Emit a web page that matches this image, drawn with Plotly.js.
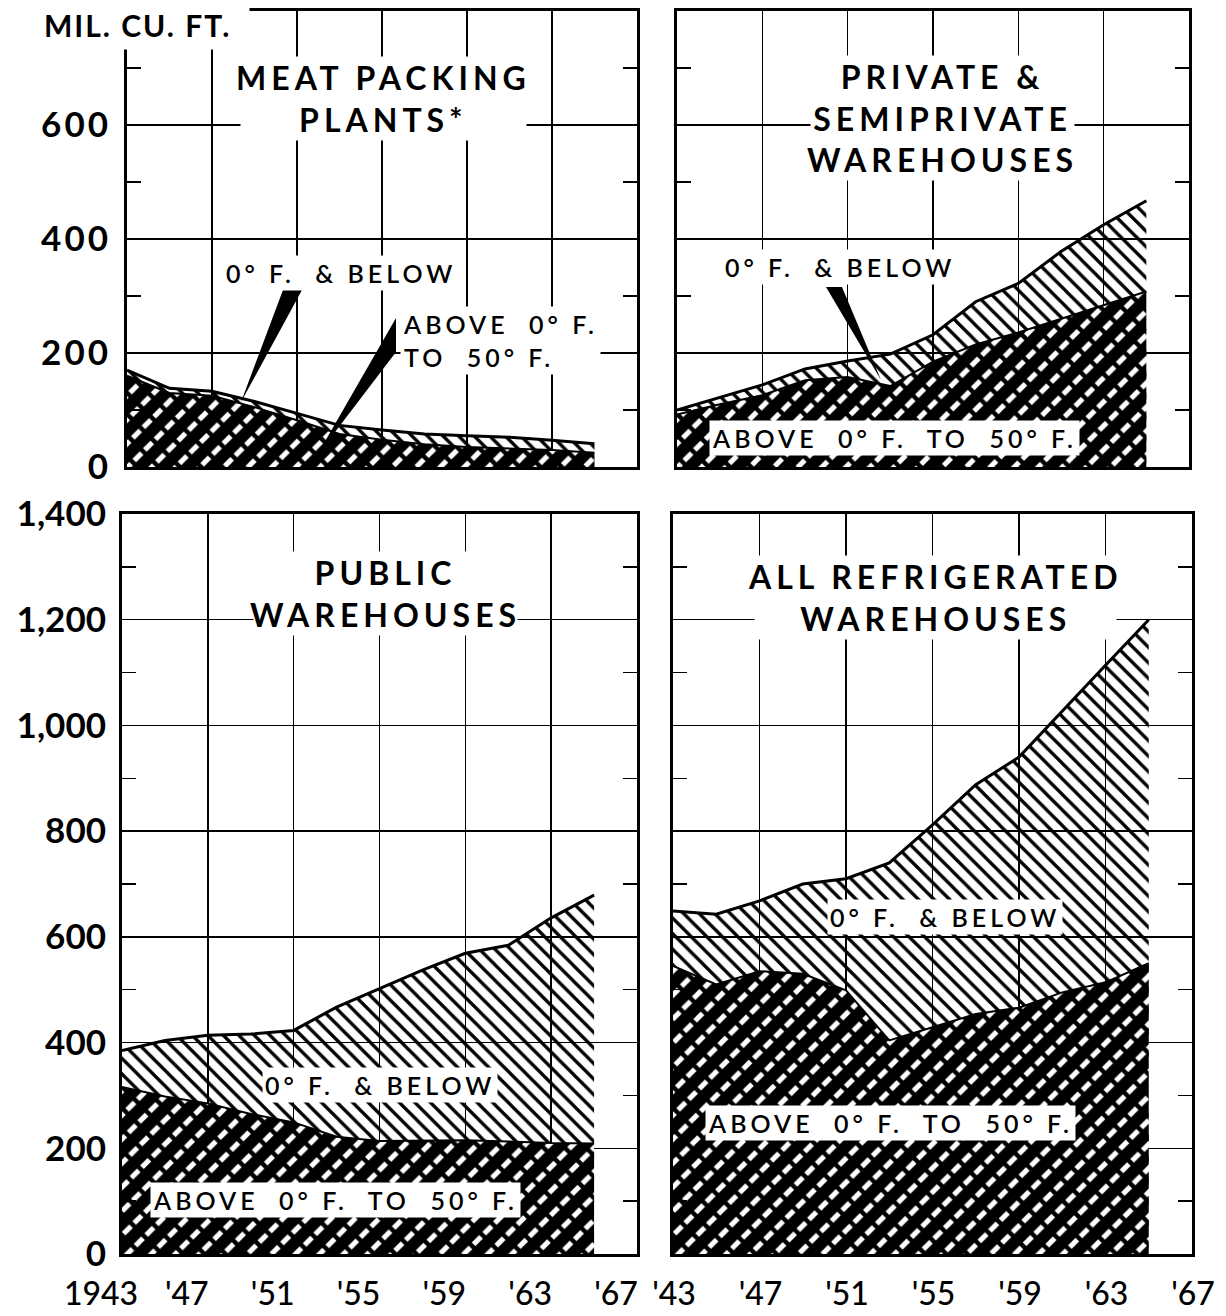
<!DOCTYPE html>
<html><head><meta charset="utf-8">
<script src="https://cdn.plot.ly/plotly-3.0.1.min.js"></script>
<style>
html,body{margin:0;padding:0;background:#fff;}
#chart{width:1226px;height:1316px;}
.annotation-text{letter-spacing:4px;}
.annotation[data-index="0"] .annotation-text{letter-spacing:2px;}
.annotation[data-index="1"] .annotation-text,
.annotation[data-index="2"] .annotation-text,
.annotation[data-index="3"] .annotation-text,
.annotation[data-index="4"] .annotation-text{letter-spacing:5px;}
.xtick text{letter-spacing:6px;}
.ytick text{letter-spacing:3px;}
</style></head><body><div id="chart"></div>
<script>
// ---- data (million cubic feet) ----
const years = [1943,1945,1947,1949,1951,1953,1955,1957,1959,1961,1963,1965];

const meatAbove = [160,130,125,105,82,58,48,40,35,33,30,25];
const meatBelow = [10,8,8,10,12,15,17,18,20,19,17,16];

const privAbove = [92,110,126,152,158,142,185,215,236,260,284,308];
const privBelow = [8,12,18,20,28,56,47,75,86,118,141,159];

const pubAbove = [316,298,285,265,249,222,214,214,215,213,210,209];
const pubBelow = [69,106,129,151,174,245,288,323,354,371,426,470];

const allAbove = [545,510,535,530,499,404,429,454,466,495,514,550];
const allBelow = [104,133,133,170,211,336,383,434,474,533,600,650];

const gridYears = [1943,1947,1951,1955,1959,1963,1967];
const xTextLeft = ['1943',"'47","'51","'55","'59","'63","'67"];
const xTextRight = ["'43","'47","'51","'55","'59","'63","'67"];
const yTopVals = [0,200,400,600];
const yTopText = ['0','200','400','600'];
const yBotVals = [0,200,400,600,800,1000,1200,1400];
const yBotText = ['0','200','400','600','800','1,000','1,200','1,400'];

const panelTitles = ['MEAT PACKING<br>PLANTS*','PRIVATE &<br>SEMIPRIVATE<br>WAREHOUSES','PUBLIC<br>WAREHOUSES','ALL REFRIGERATED<br>WAREHOUSES'];
const lblBelowTL = '0° F.  & BELOW';
const lblAboveTL = 'ABOVE  0° F.<br>TO  50° F.';
const lblBelow = '0° F.  & BELOW';
const lblAbove = 'ABOVE  0° F.  TO  50° F.';

// ---- styling ----
const W = 1226, H = 1316;
const px = v => v / W;
const py = v => 1 - v / H;
const FONT = 'Lato, "Open Sans", sans-serif';

const darkPat = {shape:'/', bgcolor:'#000', fgcolor:'#fff', size:17, solidity:0.3};
const cutPat  = {shape:'\\', bgcolor:'rgba(0,0,0,0)', fgcolor:'#000', size:15, solidity:0.3};
const lightPat= {shape:'\\', bgcolor:'rgba(255,255,255,0)', fgcolor:'#000', size:11, solidity:0.3};

const sum = (a,b) => a.map((v,i)=>v+b[i]);

function panel(above, below, xa, ya){
  const total = sum(above, below);
  return [
    {x:years, y:above, xaxis:xa, yaxis:ya, type:'scatter', mode:'lines', fill:'tozeroy',
     line:{color:'#000', width:2}, fillpattern:darkPat, hoverinfo:'skip', showlegend:false},
    {x:years, y:above, xaxis:xa, yaxis:ya, type:'scatter', mode:'lines', fill:'tozeroy',
     line:{color:'rgba(0,0,0,0)', width:0}, fillcolor:'rgba(0,0,0,0)', fillpattern:cutPat, hoverinfo:'skip', showlegend:false},
    {x:years, y:total, xaxis:xa, yaxis:ya, type:'scatter', mode:'lines', fill:'tonexty',
     line:{color:'#000', width:3}, fillpattern:lightPat, hoverinfo:'skip', showlegend:false}
  ];
}

const data = [].concat(
  panel(meatAbove, meatBelow, 'x', 'y'),
  panel(privAbove, privBelow, 'x2', 'y2'),
  panel(pubAbove, pubBelow, 'x3', 'y3'),
  panel(allAbove, allBelow, 'x4', 'y4')
);

function xax(dom, anchor, labels, shift){
  const a = {domain:dom, anchor:anchor, range:[1943,1967], tickmode:'array', tickvals:gridYears,
    showgrid:true, gridcolor:'#000', gridwidth:1.5, showline:true, linecolor:'#000', linewidth:3,
    mirror:true, ticks:'', zeroline:false, fixedrange:true, showticklabels:!!labels};
  if (labels){ a.ticktext = labels; a.tickfont = {family:FONT, size:32, color:'#000', weight:500}; a.ticklabelstandoff = 10; a.ticklabelshift = shift; }
  return a;
}
function yax(dom, anchor, range, vals, text, minorVals, labels){
  const a = {domain:dom, anchor:anchor, range:range, tickmode:'array', tickvals:vals,
    showgrid:true, gridcolor:'#000', gridwidth:1.5, showline:true, linecolor:'#000', linewidth:3,
    mirror:'ticks', ticks:'', zeroline:false, fixedrange:true, showticklabels:labels,
    minor:{tickmode:'array', tickvals:minorVals, ticks:'inside', ticklen:14, tickwidth:1.5, tickcolor:'#000', showgrid:false}};
  if (labels){ a.ticktext = text; a.tickfont = {family:FONT, size:35, color:'#000', weight:'bold'}; a.ticklabelstandoff = 6; }
  return a;
}

function note(text, cx, cy, size, extra){
  return Object.assign({text:text, xref:'paper', yref:'paper', x:px(cx), y:py(cy), showarrow:false,
    xanchor:'center', yanchor:'middle', align:'center',
    font:{family:FONT, size:size, color:'#000', weight:600}, bgcolor:'#fff', borderpad:2}, extra || {});
}

const topY = [py(467), py(11)];
const botY = [py(1254), py(514)];
const layout = {
  width:W, height:H, margin:{l:0,r:0,t:0,b:0,pad:0},
  paper_bgcolor:'#fff', plot_bgcolor:'#fff', showlegend:false,
  font:{family:FONT, color:'#000'},
  xaxis: xax([px(127), px(637)], 'y', null, 0),
  yaxis: yax(topY, 'x', [0,800], yTopVals, yTopText, [100,300,500,700], true),
  xaxis2: xax([px(677), px(1189)], 'y2', null, 0),
  yaxis2: yax(topY, 'x2', [0,800], yTopVals, yTopText, [100,300,500,700], false),
  xaxis3: xax([px(122), px(637)], 'y3', xTextLeft, -21),
  yaxis3: yax(botY, 'x3', [0,1400], yBotVals, yBotText, [100,300,500,700,900,1100,1300], true),
  xaxis4: xax([px(673), px(1192)], 'y4', xTextRight, 1),
  yaxis4: yax(botY, 'x4', [0,1400], yBotVals, yBotText, [100,300,500,700,900,1100,1300], false),
  shapes: [
    {type:'path', xref:'paper', yref:'paper', fillcolor:'#000', line:{width:0},
     path:`M${px(283)},${py(290)} L${px(302)},${py(290)} L${px(241)},${py(402)} Z`},
    {type:'path', xref:'paper', yref:'paper', fillcolor:'#000', line:{width:0},
     path:`M${px(396)},${py(318)} L${px(396)},${py(352)} L${px(316)},${py(457)} Z`},
    {type:'path', xref:'paper', yref:'paper', fillcolor:'#000', line:{width:0},
     path:`M${px(826)},${py(287)} L${px(842)},${py(287)} L${px(881)},${py(380)} Z`}
  ],
  annotations: [
    note('<b>MIL. CU. FT.</b>', 137, 25, 30, {borderpad:6}),
    note('<b>'+panelTitles[0]+'</b>', 383, 99, 32, {borderpad:1}),
    note('<b>'+panelTitles[1]+'</b>', 943, 118, 32, {borderpad:1}),
    note('<b>'+panelTitles[2]+'</b>', 385, 593, 32, {borderpad:1}),
    note('<b>'+panelTitles[3]+'</b>', 935, 597, 32, {borderpad:1}),
    note(lblBelowTL, 341, 273, 25),
    note(lblAboveTL, 400, 340, 25, {xanchor:'left', align:'left'}),
    note(lblBelow, 840, 267, 25),
    note(lblAbove, 894, 438, 25),
    note(lblBelow, 380, 1085, 25),
    note(lblAbove, 335, 1200, 25),
    note(lblBelow, 945, 917, 25),
    note(lblAbove, 890, 1123, 25)
  ]
};

Plotly.newPlot('chart', data, layout, {staticPlot:true, displayModeBar:false});
</script>
</body></html>
